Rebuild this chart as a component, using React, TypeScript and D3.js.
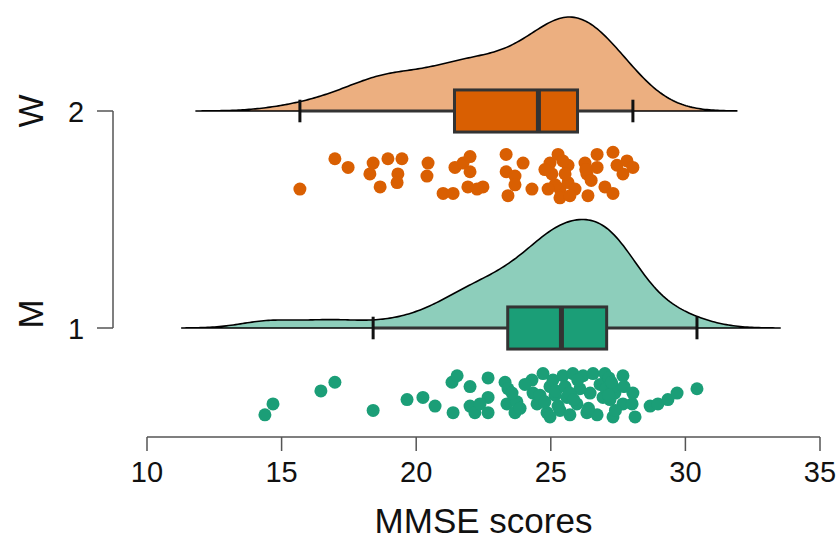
import React from 'react';
import * as d3 from 'd3';

// groups, bottom to top
const groups = ['M', 'W'];
const groupIds = [1, 2];
const colors = ['#1B9E77', '#D95F02'];

// MMSE scores per group
const scoresM = [
  14.38, 14.68, 16.46, 16.98, 18.4, 19.66, 20.25, 20.7, 21.33, 21.52,
  22.0, 21.37, 22.67, 22.67, 22.0, 22.18, 22.37, 22.67, 23.3, 23.41,
  23.37, 23.74, 23.67, 24.3, 24.71, 24.34, 24.49, 24.86, 24.97, 25.08,
  25.45, 25.82, 26.2, 26.57, 27.01, 27.68, 27.27, 25.16, 25.6, 25.97,
  25.34, 25.71, 26.34, 26.72, 27.31, 27.68, 28.02, 28.13, 26.46, 26.94,
  27.38, 28.69, 28.98, 29.35, 29.69, 30.43, 24.97, 26.08, 26.83,
  23.56, 23.86, 24.04, 24.6, 24.78, 25.19, 25.27,
  25.53, 25.7, 25.85, 26.0, 26.4, 27.05,
  27.16, 27.2, 27.3, 27.15, 27.25, 27.4, 28.05, 27.72,
];
// vertical jitter of each dot, in group units below the group line
const jitterM = [
  0.4, 0.35, 0.29, 0.25, 0.38, 0.33, 0.32, 0.36, 0.25, 0.22,
  0.27, 0.39, 0.23, 0.32, 0.36, 0.39, 0.35, 0.39, 0.25, 0.28,
  0.35, 0.34, 0.39, 0.24, 0.21, 0.3, 0.35, 0.39, 0.27, 0.24,
  0.22, 0.21, 0.22, 0.21, 0.21, 0.22, 0.26, 0.31, 0.32, 0.35,
  0.38, 0.4, 0.39, 0.4, 0.41, 0.35, 0.35, 0.41, 0.3, 0.32,
  0.3, 0.36, 0.35, 0.33, 0.3, 0.28, 0.41, 0.28, 0.26,
  0.3, 0.37, 0.26, 0.31, 0.34, 0.29, 0.36,
  0.27, 0.3, 0.33, 0.24, 0.37, 0.28,
  0.23, 0.33, 0.27, 0.31, 0.25, 0.38, 0.3, 0.27,
];

const scoresW = [
  15.68, 16.98, 17.47, 18.28, 18.4, 18.95, 19.47, 19.32, 19.29, 18.66,
  20.44, 20.4, 21.0, 21.37, 21.44, 21.74, 22.0, 22.0, 21.92, 22.48,
  22.26, 23.34, 23.34, 23.67, 23.97, 23.67, 23.41, 24.3, 24.97, 25.04,
  25.27, 25.34, 25.34, 25.64, 25.64, 25.9, 26.27, 26.34, 26.72, 26.72,
  26.38, 27.01, 27.31, 27.31, 27.46, 27.68, 27.83, 28.05,
  24.78, 25.16, 25.45, 25.53, 26.3, 26.5, 24.9, 25.71,
];
const jitterW = [
  0.36, 0.22, 0.26, 0.29, 0.24, 0.22, 0.22, 0.29, 0.33, 0.35,
  0.24, 0.3, 0.38, 0.38, 0.26, 0.24, 0.21, 0.28, 0.35, 0.35,
  0.36, 0.2, 0.28, 0.3, 0.24, 0.34, 0.39, 0.36, 0.24, 0.29,
  0.2, 0.36, 0.4, 0.25, 0.33, 0.36, 0.24, 0.29, 0.2, 0.26,
  0.39, 0.35, 0.19, 0.38, 0.25, 0.29, 0.23, 0.26,
  0.27, 0.34, 0.23, 0.29, 0.27, 0.32, 0.36, 0.39,
];

const xTicks = [10, 15, 20, 25, 30, 35];

const W = 838;
const H = 545;

const xScale = d3.scaleLinear().domain([10, 35]).range([147, 820]);
const yScale = d3.scaleLinear().domain([1, 2]).range([328, 111]);

// R-style nrd0 bandwidth
const bwNrd0 = (v: number[]) => {
  const s = [...v].sort(d3.ascending);
  const sd = d3.deviation(s) as number;
  const iqr = (d3.quantile(s, 0.75) as number) - (d3.quantile(s, 0.25) as number);
  return 0.9 * Math.min(sd, iqr / 1.34) * Math.pow(s.length, -0.2);
};

const kde = (v: number[]) => {
  const bw = bwNrd0(v);
  const lo = (d3.min(v) as number) - 3 * bw;
  const hi = (d3.max(v) as number) + 3 * bw;
  const n = 256;
  const pts: [number, number][] = [];
  for (let i = 0; i <= n; i++) {
    const x = lo + ((hi - lo) * i) / n;
    let s = 0;
    for (const d of v) {
      const u = (x - d) / bw;
      s += Math.exp(-0.5 * u * u);
    }
    pts.push([x, s / (v.length * bw * Math.sqrt(2 * Math.PI))]);
  }
  return pts;
};

const boxStats = (v: number[]) => {
  const s = [...v].sort(d3.ascending);
  const q1 = d3.quantile(s, 0.25) as number;
  const med = d3.quantile(s, 0.5) as number;
  const q3 = d3.quantile(s, 0.75) as number;
  const iqr = q3 - q1;
  const lo = d3.min(s.filter((d) => d >= q1 - 1.5 * iqr)) as number;
  const hi = d3.max(s.filter((d) => d <= q3 + 1.5 * iqr)) as number;
  return { q1, med, q3, lo, hi };
};

const App = () => {
  const data = [
    { scores: scoresM, jitter: jitterM },
    { scores: scoresW, jitter: jitterW },
  ];
  const dens = data.map((g) => kde(g.scores));
  const maxDens = d3.max(dens.flat(), (d) => d[1]) as number;
  const hScale = d3.scaleLinear().domain([0, maxDens]).range([0, 0.5]);

  const font = 'Liberation Sans, Arial, sans-serif';

  return (
    <svg width={W} height={H} style={{ position: 'absolute', left: 0, top: 0 }}>
      <rect width={W} height={H} fill="#fff" />
      {data.map((g, i) => {
        const gy = groupIds[i];
        const area = d3
          .area<[number, number]>()
          .x((d) => xScale(d[0]))
          .y0(yScale(gy))
          .y1((d) => yScale(gy + hScale(d[1])));
        const b = boxStats(g.scores);
        const half = 0.097;
        const cap = 0.052;
        return (
          <g key={groups[i]}>
            <path d={area(dens[i]) as string} fill={colors[i]} fillOpacity={0.5} stroke="#000" strokeWidth={1.6} />
            <line x1={xScale(b.lo)} x2={xScale(b.hi)} y1={yScale(gy)} y2={yScale(gy)} stroke="#333" strokeWidth={3} />
            {[b.lo, b.hi].map((v, k) => (
              <line key={k} x1={xScale(v)} x2={xScale(v)} y1={yScale(gy + cap)} y2={yScale(gy - cap)} stroke="#111" strokeWidth={3} />
            ))}
            <rect
              x={xScale(b.q1)}
              y={yScale(gy + half)}
              width={xScale(b.q3) - xScale(b.q1)}
              height={yScale(gy - half) - yScale(gy + half)}
              fill={colors[i]}
              stroke="#333"
              strokeWidth={3}
            />
            <line x1={xScale(b.med)} x2={xScale(b.med)} y1={yScale(gy + half)} y2={yScale(gy - half)} stroke="#333" strokeWidth={5} />
            {g.scores.map((s, k) => (
              <circle key={k} cx={xScale(s)} cy={yScale(gy - g.jitter[k])} r={6.5} fill={colors[i]} />
            ))}
          </g>
        );
      })}

      {/* x axis */}
      <g fontFamily={font} fontSize={29} fill="#111">
        <line x1={xScale(10)} x2={xScale(35)} y1={437} y2={437} stroke="#555" strokeWidth={1.5} />
        {xTicks.map((t) => (
          <g key={t}>
            <line x1={xScale(t)} x2={xScale(t)} y1={437} y2={451} stroke="#555" strokeWidth={1.5} />
            <text x={xScale(t)} y={482} textAnchor="middle">{t}</text>
          </g>
        ))}
        <text x={(xScale(10) + xScale(35)) / 2} y={533} textAnchor="middle" fontSize={35}>MMSE scores</text>
      </g>

      {/* y axis */}
      <g fontFamily={font} fontSize={29} fill="#111">
        <line x1={113} x2={113} y1={yScale(1)} y2={yScale(2)} stroke="#555" strokeWidth={1.5} />
        {groupIds.map((id, i) => (
          <g key={id}>
            <line x1={97} x2={113} y1={yScale(id)} y2={yScale(id)} stroke="#555" strokeWidth={1.5} />
            <text x={76} y={yScale(id) + 10.5} textAnchor="middle">{id}</text>
            <text
              transform={`translate(43, ${yScale(id) - (i === 0 ? 14 : 0)}) rotate(-90)`}
              textAnchor="middle"
              fontSize={35}
            >
              {groups[i]}
            </text>
          </g>
        ))}
      </g>
    </svg>
  );
};

export default App;
